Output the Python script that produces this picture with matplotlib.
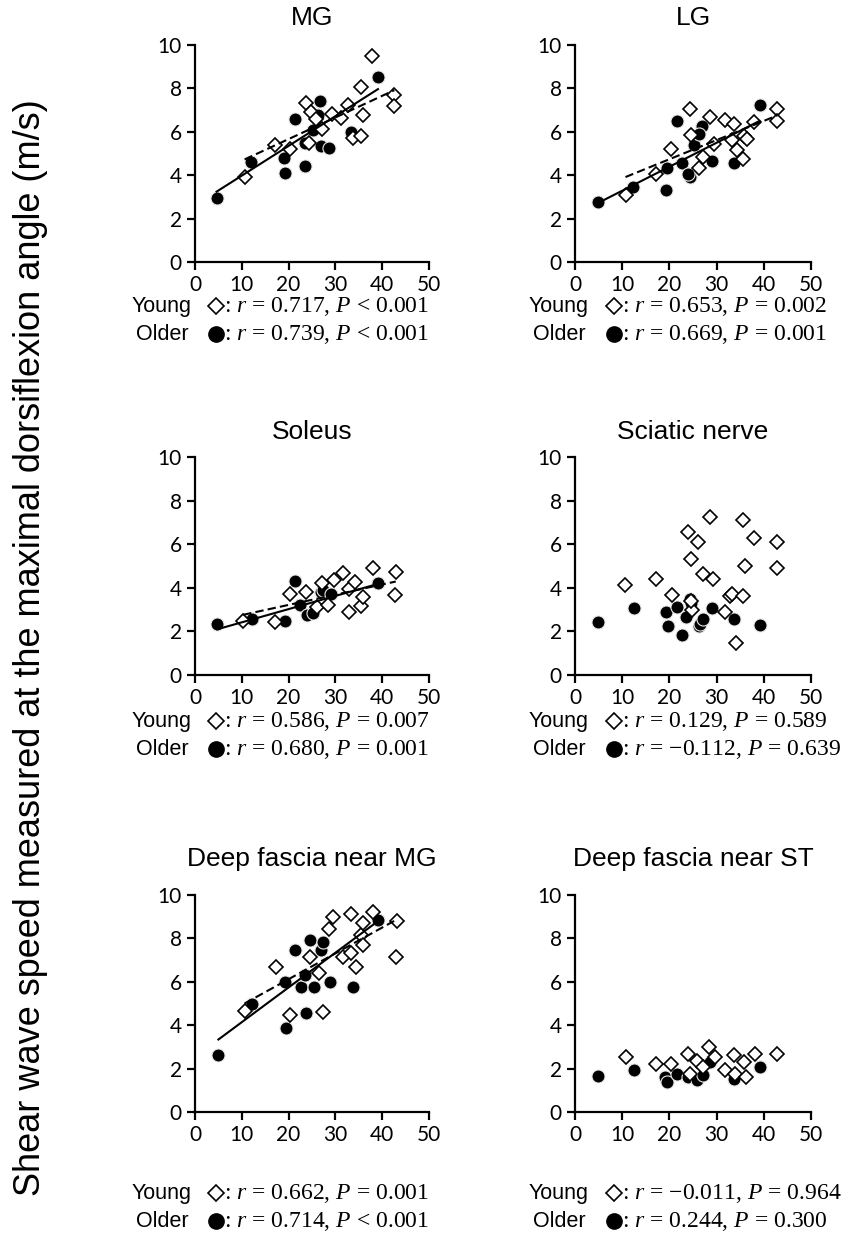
import numpy as np
import matplotlib
matplotlib.use("Agg")
import matplotlib.pyplot as plt
from matplotlib.lines import Line2D

plt.rcParams['mathtext.fontset'] = 'custom'
plt.rcParams['mathtext.rm'] = 'Liberation Serif'
plt.rcParams['mathtext.it'] = 'Liberation Serif:italic'

W, H = 850, 1235

# ---------------- data ----------------
panel_titles = ["MG", "LG", "Soleus", "Sciatic nerve", "Deep fascia near MG", "Deep fascia near ST"]

mg_young_x = [10.6, 17.0, 20.4, 23.8, 24.4, 24.7, 25.8, 27.2, 29.2, 31.2, 32.6, 33.8, 35.4, 35.5, 35.9, 37.9, 42.6, 42.6]
mg_young_y = [3.90, 5.40, 5.20, 7.33, 5.48, 6.90, 6.58, 6.12, 6.84, 6.63, 7.25, 5.71, 8.05, 5.79, 6.77, 9.49, 7.71, 7.20]
mg_older_x = [4.6, 11.9, 19.0, 19.2, 21.3, 23.5, 23.5, 25.2, 26.3, 26.7, 26.9, 28.6, 33.4, 39.1]
mg_older_y = [2.95, 4.63, 4.79, 4.10, 6.59, 5.48, 4.44, 6.06, 6.79, 7.40, 5.36, 5.25, 5.97, 8.54]

lg_young_x = [10.7, 17.1, 20.4, 24.3, 24.6, 26.2, 27.2, 28.6, 29.5, 31.8, 33.6, 33.2, 34.3, 35.6, 35.7, 36.4, 38.0, 42.9, 42.9]
lg_young_y = [3.10, 4.05, 5.22, 7.04, 5.86, 4.31, 4.84, 6.70, 5.42, 6.55, 6.34, 5.60, 5.15, 4.73, 5.79, 5.68, 6.44, 7.05, 6.52]
lg_older_x = [4.95, 12.2, 19.4, 19.3, 21.6, 22.6, 24.4, 23.9, 25.3, 26.9, 26.2, 29.0, 33.6, 39.1]
lg_older_y = [2.78, 3.47, 4.31, 3.34, 6.49, 4.58, 3.92, 4.05, 5.37, 6.29, 5.91, 4.64, 4.58, 7.25]

sol_young_x = [10.3, 17.0, 20.2, 23.8, 26.0, 27.1, 28.5, 29.6, 31.7, 33.0, 32.8, 34.2, 35.4, 36.0, 38.0, 42.9, 42.7]
sol_young_y = [2.50, 2.45, 3.72, 3.82, 3.14, 4.23, 3.21, 4.36, 4.69, 2.91, 3.93, 4.28, 3.17, 3.60, 4.89, 4.71, 3.67]
sol_older_x = [4.75, 12.2, 19.3, 21.4, 22.5, 23.9, 25.3, 27.0, 27.4, 29.0, 39.1]
sol_older_y = [2.35, 2.58, 2.50, 4.33, 3.19, 2.76, 2.84, 3.83, 3.90, 3.72, 4.24]

sci_young_x = [10.6, 17.2, 20.5, 24.0, 24.5, 24.7, 24.5, 26.0, 27.1, 28.5, 29.3, 31.7, 32.9, 33.2, 34.1, 35.6, 35.6, 36.1, 38.0, 42.8, 42.8]
sci_young_y = [4.13, 4.39, 3.67, 6.55, 5.30, 2.99, 3.40, 6.11, 4.65, 7.26, 4.42, 2.91, 3.63, 3.70, 1.46, 7.13, 3.63, 5.00, 6.27, 6.11, 4.89]
sci_older_x = [4.95, 12.4, 19.3, 19.6, 21.6, 22.6, 24.4, 24.6, 23.6, 26.2, 26.5, 27.1, 29.0, 33.6, 39.2]
sci_older_y = [2.44, 3.09, 2.90, 2.23, 3.13, 1.84, 3.50, 3.30, 2.64, 2.23, 2.35, 2.56, 3.06, 2.59, 2.29]

dmg_young_x = [10.6, 17.4, 20.4, 24.5, 26.6, 27.3, 28.7, 29.4, 31.6, 33.3, 33.3, 34.4, 35.5, 35.8, 35.8, 38.0, 42.9, 43.1]
dmg_young_y = [4.65, 6.69, 4.46, 7.15, 6.39, 4.62, 8.42, 9.00, 7.15, 7.31, 9.12, 6.69, 8.15, 8.69, 7.69, 9.23, 7.15, 8.81]
dmg_older_x = [5.0, 12.2, 19.5, 19.3, 21.3, 22.7, 23.6, 23.8, 24.5, 25.4, 27.0, 27.3, 28.9, 33.7, 39.0]
dmg_older_y = [2.62, 4.97, 3.85, 6.00, 7.46, 5.74, 6.31, 4.54, 7.92, 5.77, 7.46, 7.85, 6.00, 5.74, 8.85]

dst_young_x = [10.8, 17.2, 20.3, 24.0, 24.4, 25.8, 27.1, 28.3, 29.7, 31.8, 33.6, 33.9, 35.7, 36.3, 38.2, 42.8]
dst_young_y = [2.53, 2.23, 2.23, 2.66, 1.77, 2.35, 2.07, 2.99, 2.53, 1.92, 2.61, 1.77, 2.30, 1.61, 2.66, 2.66]
dst_older_x = [4.95, 12.4, 19.1, 19.4, 21.7, 24.0, 25.8, 27.2, 28.6, 33.6, 39.2]
dst_older_y = [1.64, 1.92, 1.61, 1.38, 1.77, 1.61, 1.46, 1.69, 2.30, 1.54, 2.07]

# regression lines (intercept, slope); None = no line
young_fit = [(3.67, 0.0997), (2.97, 0.0883), (2.28, 0.0468), None, (3.74, 0.119), None]
older_fit = [(2.61, 0.137), (2.18, 0.1105), (1.81, 0.0606), None, (2.54, 0.160), None]

young_stats = [": $r$ = 0.717, $P$ < 0.001", ": $r$ = 0.653, $P$ = 0.002",
               ": $r$ = 0.586, $P$ = 0.007", ": $r$ = 0.129, $P$ = 0.589",
               ": $r$ = 0.662, $P$ = 0.001", ": $r$ = \u22120.011, $P$ = 0.964"]
older_stats = [": $r$ = 0.739, $P$ < 0.001", ": $r$ = 0.669, $P$ = 0.001",
               ": $r$ = 0.680, $P$ = 0.001", ": $r$ = \u22120.112, $P$ = 0.639",
               ": $r$ = 0.714, $P$ < 0.001", ": $r$ = 0.244, $P$ = 0.300"]

young_xs = [mg_young_x, lg_young_x, sol_young_x, sci_young_x, dmg_young_x, dst_young_x]
young_ys = [mg_young_y, lg_young_y, sol_young_y, sci_young_y, dmg_young_y, dst_young_y]
older_xs = [mg_older_x, lg_older_x, sol_older_x, sci_older_x, dmg_older_x, dst_older_x]
older_ys = [mg_older_y, lg_older_y, sol_older_y, sci_older_y, dmg_older_y, dst_older_y]

x_ticks = [0, 10, 20, 30, 40, 50]
y_ticks = [0, 2, 4, 6, 8, 10]
ylabel = "Shear wave speed measured at the maximal dorsiflexion angle (m/s)"

# ---------------- layout (pixels) ----------------
col_left = [195, 575]
col_width = [234, 236]
row_top = [45, 457, 895]
row_height = [217, 218, 217]
title_y = [18, 432, 859]
young_row_y = [306, 721, 1193]
older_row_y = [334, 749, 1221]
label_cx = [162, 559]
marker_cx = [216, 614]
text_x = [224, 622]

fig = plt.figure(figsize=(W / 100, H / 100), dpi=100)
fig.patch.set_facecolor('white')

sans = 'Liberation Sans'
tickfont = 'Lato'

for i in range(6):
    r, c = divmod(i, 2)
    left = col_left[c] / W
    bottom = 1 - (row_top[r] + row_height[r]) / H
    ax = fig.add_axes([left, bottom, col_width[c] / W, row_height[r] / H])
    ax.set_xlim(0, 50)
    ax.set_ylim(0, 10)
    ax.set_xticks(x_ticks)
    ax.set_yticks(y_ticks)
    for s in ['top', 'right']:
        ax.spines[s].set_visible(False)
    for s in ['left', 'bottom']:
        ax.spines[s].set_linewidth(1.6)
    ax.tick_params(direction='out', length=5.5, width=1.6, labelsize=15, pad=4)
    for lab in ax.get_xticklabels() + ax.get_yticklabels():
        lab.set_fontfamily(tickfont)

    ax.plot(older_xs[i], older_ys[i], linestyle='none', marker='o', markersize=9.4,
            markerfacecolor='black', markeredgecolor='#e8e8e8', markeredgewidth=0.8,
            clip_on=False, zorder=3)
    ax.plot(young_xs[i], young_ys[i], linestyle='none', marker='D', markersize=7.6,
            markerfacecolor='white', markeredgecolor='black', markeredgewidth=1.2,
            clip_on=False, zorder=4)

    if older_fit[i] is not None:
        b0, b1 = older_fit[i]
        xs = np.array([min(older_xs[i]), max(older_xs[i])])
        ax.plot(xs, b0 + b1 * xs, color='black', lw=1.5, zorder=5)
    if young_fit[i] is not None:
        b0, b1 = young_fit[i]
        xs = np.array([min(young_xs[i]), max(young_xs[i])])
        ax.plot(xs, b0 + b1 * xs, color='black', lw=1.5, linestyle=(0, (4, 2)), zorder=5)

    cx = (col_left[c] + col_width[c] / 2) / W
    fig.text(cx, 1 - title_y[r] / H, panel_titles[i], ha='center', va='center',
             fontfamily=sans, fontsize=19)

    for rowy, lab, mk, stats in [(young_row_y[r], 'Young', 'young', young_stats[i]),
                                 (older_row_y[r], 'Older', 'older', older_stats[i])]:
        yb = 1 - (rowy + 6) / H
        fig.text(label_cx[c] / W, yb, lab, ha='center', va='baseline',
                 fontfamily=sans, fontsize=15.5)
        if mk == 'young':
            m = Line2D([marker_cx[c] / W], [1 - rowy / H], transform=fig.transFigure,
                       marker='D', markersize=7.8, markerfacecolor='white',
                       markeredgecolor='black', markeredgewidth=1.2, linestyle='none')
        else:
            m = Line2D([marker_cx[c] / W], [1 - rowy / H], transform=fig.transFigure,
                       marker='o', markersize=11, markerfacecolor='black',
                       markeredgecolor='black', linestyle='none')
        fig.add_artist(m)
        fig.text(text_x[c] / W, yb, stats, ha='left', va='baseline',
                 fontfamily='Liberation Serif', fontsize=17)

fig.text(31 / W, 1 - 648 / H, ylabel, rotation=90, ha='center', va='center',
         fontfamily=sans, fontsize=26)

fig.savefig('out.png', dpi=100, facecolor='white')
